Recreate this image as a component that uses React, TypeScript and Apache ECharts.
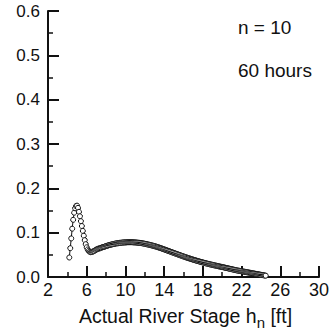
import React, { useEffect, useRef } from "react";
import * as echarts from "echarts";

const xTickLabels = ["2", "6", "10", "14", "18", "22", "26", "30"];
const yTickLabels = ["0.0", "0.1", "0.2", "0.3", "0.4", "0.5", "0.6"];
const annotations = ["n = 10", "60 hours"];
const axisTitleParts = ["Actual River Stage h", "n", " [ft]"];

// [river stage (ft), probability density]
const curvePoints: [number, number][] = [
  [4.2, 0.044], [4.3, 0.065], [4.4, 0.087], [4.5, 0.109], [4.6, 0.129], [4.7, 0.145], [4.8, 0.155], [4.9, 0.16],
  [5.0, 0.161], [5.1, 0.156], [5.2, 0.147], [5.3, 0.137], [5.4, 0.126], [5.5, 0.115], [5.6, 0.104], [5.7, 0.093],
  [5.8, 0.083], [5.9, 0.074], [6.0, 0.067], [6.1, 0.062], [6.2, 0.059], [6.3, 0.057], [6.4, 0.056], [6.5, 0.0565],
  [6.6, 0.057], [6.7, 0.058], [6.8, 0.059], [6.9, 0.061], [7.0, 0.062], [7.1, 0.063], [7.2, 0.064], [7.3, 0.0645],
  [7.4, 0.065], [7.5, 0.066], [7.6, 0.067], [7.7, 0.0675], [7.8, 0.068], [7.9, 0.069], [8.0, 0.07], [8.1, 0.0705],
  [8.2, 0.071], [8.3, 0.072], [8.4, 0.0725], [8.5, 0.073], [8.6, 0.0735], [8.7, 0.074], [8.8, 0.0745], [8.9, 0.075],
  [9.0, 0.0755], [9.1, 0.076], [9.2, 0.076], [9.3, 0.0765], [9.4, 0.077], [9.5, 0.077], [9.6, 0.0775], [9.7, 0.0775],
  [9.8, 0.078], [9.9, 0.078], [10.0, 0.078], [10.1, 0.0783], [10.2, 0.0785], [10.3, 0.0785], [10.4, 0.0785], [10.5, 0.0785],
  [10.6, 0.0785], [10.7, 0.0785], [10.8, 0.0782], [10.9, 0.078], [11.0, 0.078], [11.1, 0.0778], [11.2, 0.0776], [11.3, 0.0774],
  [11.4, 0.0772], [11.5, 0.077], [11.6, 0.0766], [11.7, 0.0762], [11.8, 0.0758], [11.9, 0.0754], [12.0, 0.075], [12.1, 0.0745],
  [12.2, 0.074], [12.3, 0.0735], [12.4, 0.073], [12.5, 0.0725], [12.6, 0.072], [12.7, 0.0714], [12.8, 0.0708], [12.9, 0.0702],
  [13.0, 0.0696], [13.1, 0.069], [13.2, 0.0683], [13.3, 0.0676], [13.4, 0.0669], [13.5, 0.0662], [13.6, 0.0655], [13.7, 0.0647],
  [13.8, 0.0639], [13.9, 0.0631], [14.0, 0.0623], [14.1, 0.0615], [14.2, 0.0607], [14.3, 0.0599], [14.4, 0.0591], [14.5, 0.0583],
  [14.6, 0.0575], [14.7, 0.0567], [14.8, 0.0559], [14.9, 0.0551], [15.0, 0.0543], [15.1, 0.0535], [15.2, 0.0527], [15.3, 0.0519],
  [15.4, 0.0511], [15.5, 0.0503], [15.6, 0.0495], [15.7, 0.0487], [15.8, 0.0479], [15.9, 0.0471], [16.0, 0.0463], [16.1, 0.0456],
  [16.2, 0.0448], [16.3, 0.0441], [16.4, 0.0433], [16.5, 0.0426], [16.6, 0.0419], [16.7, 0.0412], [16.8, 0.0405], [16.9, 0.0398],
  [17.0, 0.0391], [17.1, 0.0384], [17.2, 0.0378], [17.3, 0.0371], [17.4, 0.0365], [17.5, 0.0358], [17.6, 0.0352], [17.7, 0.0346],
  [17.8, 0.034], [17.9, 0.0334], [18.0, 0.0328], [18.1, 0.0322], [18.2, 0.0316], [18.3, 0.031], [18.4, 0.0305], [18.5, 0.0299],
  [18.6, 0.0294], [18.7, 0.0288], [18.8, 0.0283], [18.9, 0.0278], [19.0, 0.0273], [19.1, 0.0268], [19.2, 0.0263], [19.3, 0.0258],
  [19.4, 0.0253], [19.5, 0.0248], [19.6, 0.0243], [19.7, 0.0238], [19.8, 0.0234], [19.9, 0.0229], [20.0, 0.0225], [20.1, 0.022],
  [20.2, 0.0215], [20.3, 0.021], [20.4, 0.0205], [20.5, 0.02], [20.6, 0.0195], [20.7, 0.019], [20.8, 0.0185], [20.9, 0.018],
  [21.0, 0.0175], [21.1, 0.017], [21.2, 0.0165], [21.3, 0.016], [21.4, 0.0155], [21.5, 0.015], [21.6, 0.0146], [21.7, 0.0142],
  [21.8, 0.0138], [21.9, 0.0134], [22.0, 0.013], [22.1, 0.0126], [22.2, 0.0122], [22.3, 0.0118], [22.4, 0.0114], [22.5, 0.011],
  [22.6, 0.0106], [22.7, 0.0102], [22.8, 0.0098], [22.9, 0.0094], [23.0, 0.009], [23.1, 0.0086], [23.2, 0.0082], [23.3, 0.0078],
  [23.4, 0.0074], [23.5, 0.007], [23.6, 0.0066], [23.7, 0.0062], [23.8, 0.0058], [23.9, 0.0054], [24.0, 0.005], [24.1, 0.0046],
  [24.2, 0.0042], [24.3, 0.0038], [24.4, 0.0034], [24.5, 0.003],
];

const FONT_NAME = "Liberation Sans";
const FONT = "'Liberation Sans', Arial, sans-serif";
const INK = "#111";

const TITLE_SIZE = 19.5;
const SUB_SIZE = 15;

function measure(text: string, size: number): number {
  const ctx = document.createElement("canvas").getContext("2d");
  if (!ctx) return text.length * size * 0.5;
  ctx.font = `${size}px '${FONT_NAME}'`;
  return ctx.measureText(text).width;
}

export default function App() {
  const ref = useRef<HTMLDivElement>(null);
  useEffect(() => {
    if (!ref.current) return;
    const chart = echarts.init(ref.current, undefined, { renderer: "svg" });

    const w0 = measure(axisTitleParts[0], TITLE_SIZE);
    const w1 = measure(axisTitleParts[1], SUB_SIZE);
    const w2 = measure(axisTitleParts[2], TITLE_SIZE);
    const titleCenter = 185.5;
    const x0 = titleCenter - (w0 + w1 + w2) / 2;
    const titleY = 316;
    const subY = 322.5;

    chart.setOption({
      animation: false,
      grid: { left: 48, right: 10, top: 11, bottom: 53, containLabel: false, outerBoundsMode: "none" },
      xAxis: {
        type: "value",
        min: 2,
        max: 30,
        interval: 4,
        axisLine: { lineStyle: { color: INK, width: 2 } },
        axisTick: { inside: true, length: 11, lineStyle: { color: INK, width: 2 } },
        minorTick: { show: true, splitNumber: 2, length: 5, lineStyle: { color: INK, width: 1.5 } },
        splitLine: { show: false },
        axisLabel: {
          fontFamily: FONT,
          fontSize: 18,
          color: INK,
          margin: 4,
          formatter: (v: number) => xTickLabels[Math.round((v - 2) / 4)] ?? "",
        },
      },
      yAxis: {
        type: "value",
        min: 0,
        max: 0.6,
        interval: 0.1,
        axisLine: { show: true, lineStyle: { color: INK, width: 2 } },
        axisTick: { show: true, inside: true, length: 11, lineStyle: { color: INK, width: 2 } },
        minorTick: { show: true, splitNumber: 2, length: 5, lineStyle: { color: INK, width: 1.5 } },
        splitLine: { show: false },
        axisLabel: {
          fontFamily: FONT,
          fontSize: 17,
          color: INK,
          margin: 8,
          padding: [4, 0, 0, 0],
          formatter: (v: number) => yTickLabels[Math.round(v * 10)] ?? "",
        },
      },
      graphic: [
        { type: "text", x: 238, y: 27.5, style: { text: annotations[0], fontFamily: FONT, fontSize: 19, fill: INK, verticalAlign: "middle" } },
        { type: "text", x: 238, y: 70, style: { text: annotations[1], fontFamily: FONT, fontSize: 19, fill: INK, verticalAlign: "middle" } },
        { type: "text", x: x0, y: titleY, style: { text: axisTitleParts[0], fontFamily: FONT, fontSize: TITLE_SIZE, fill: INK, verticalAlign: "middle", align: "left" } },
        { type: "text", x: x0 + w0, y: subY, style: { text: axisTitleParts[1], fontFamily: FONT, fontSize: SUB_SIZE, fill: INK, verticalAlign: "middle", align: "left" } },
        { type: "text", x: x0 + w0 + w1, y: titleY, style: { text: axisTitleParts[2], fontFamily: FONT, fontSize: TITLE_SIZE, fill: INK, verticalAlign: "middle", align: "left" } },
      ],
      series: [
        {
          type: "line",
          data: curvePoints,
          symbol: "circle",
          symbolSize: 5,
          showAllSymbol: true,
          lineStyle: { color: INK, width: 1 },
          itemStyle: { color: "#fff", borderColor: INK, borderWidth: 1 },
          clip: false,
        },
      ],
    });
    return () => chart.dispose();
  }, []);
  return <div ref={ref} style={{ width: 329, height: 330, position: "absolute", left: 0, top: 0 }} />;
}
